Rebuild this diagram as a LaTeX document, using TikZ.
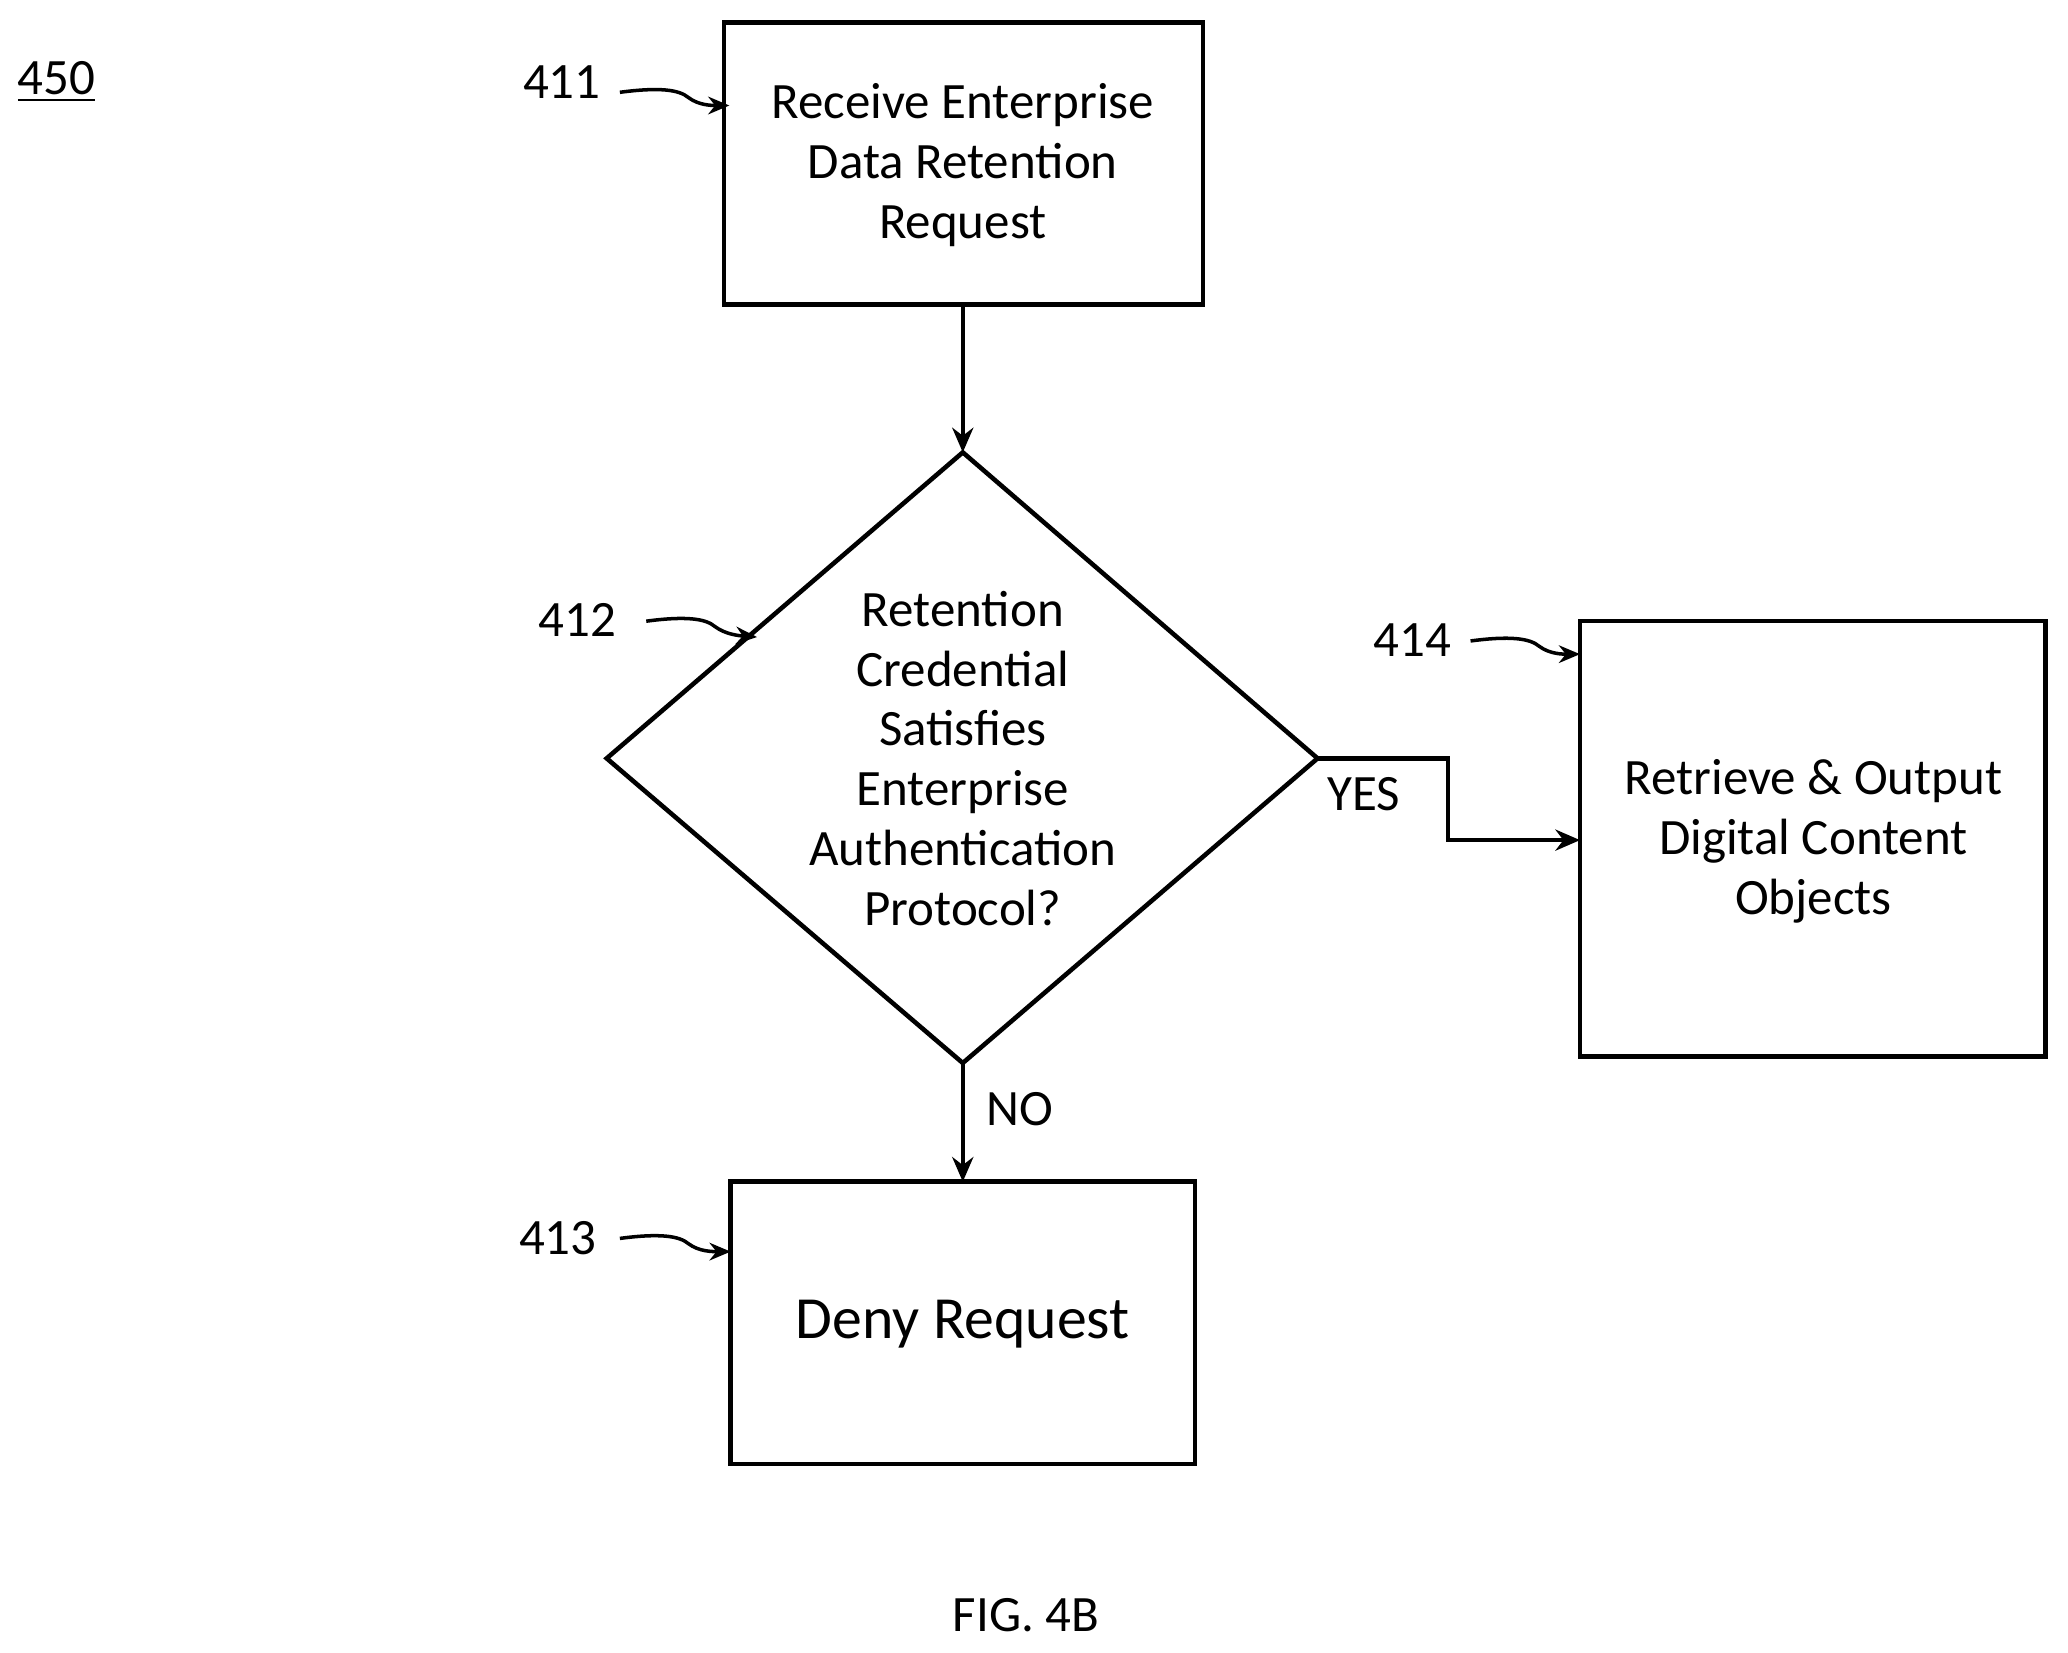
\documentclass[tikz,border=0pt]{standalone}
\usepackage{fontspec}
\setmainfont{Carlito}
\usetikzlibrary{arrows.meta}
\begin{document}
\begin{tikzpicture}[x=0.013189cm,y=-0.013189cm,
  box/.style={draw,line width=1.3pt,minimum width=#1,align=center},
  txt/.style={font=\fontsize{14.5}{17}\selectfont,align=center},
  conn/.style={line width=1.3pt,-{Stealth[length=7pt,width=6pt]}},
  lead/.style={line width=1pt,-{Stealth[length=6pt,width=5pt]}}]
\useasboundingbox (0,0) rectangle (1568,1253);
\draw[line width=1.3pt] (549,17) rectangle (912,231);
\node[txt] (b411) at (730,125) {Receive Enterprise\\Data Retention\\Request};
\coordinate (b411s) at (730,231);
\coordinate (dt) at (730,343);
\coordinate (dr) at (999,575);
\coordinate (db) at (730,806);
\draw[line width=1.3pt] (dt) -- (dr) -- (db) -- (460,575) -- cycle;
\node[txt] (d412) at (730,575) {Retention\\Credential\\Satisfies\\Enterprise\\Authentication\\Protocol?};
\draw[line width=1.3pt] (1198,471) rectangle (1551,801);
\node[txt] (b414) at (1375,638) {Retrieve \& Output\\Digital Content\\Objects};
\coordinate (b414w) at (1198,637);
\draw[line width=1.3pt] (554,896) rectangle (906,1110);
\node[font=\fontsize{17}{20}\selectfont] (b413) at (730,1004) {Deny Request};
\coordinate (b413n) at (730,896);
\draw[conn] (b411s) -- (dt);
\draw[conn] (dr) -- (1098,575) -- (1098,637) -- (b414w);
\draw[conn] (db) -- (b413n);
\node[txt] (yes) at (1034,602) {YES};
\node[txt] (no) at (773,841) {NO};
\node[txt] (l450) at (43,62) {\underline{450}};
\node[txt] (l411) at (426,62) {411};
\node[txt] (l412) at (438,470) {412};
\node[txt] (l414) at (1071,485) {414};
\node[txt] (l413) at (423,939) {413};
\coordinate (a411) at (553,80);
\coordinate (a412) at (574,483);
\coordinate (a414) at (1198,496);
\coordinate (a413) at (554,949);
\draw[lead] (470,70) .. controls (500,66) and (515,68) .. (522,74) .. controls (530,80) and (540,80) .. (a411);
\draw[lead] (490,471) .. controls (520,467) and (535,469) .. (542,475) .. controls (550,481) and (560,482) .. (a412);
\draw[lead] (1115,486) .. controls (1145,482) and (1160,484) .. (1167,490) .. controls (1175,496) and (1185,496) .. (a414);
\draw[lead] (470,939) .. controls (500,935) and (515,937) .. (522,943) .. controls (530,949) and (540,949) .. (a413);
\node[txt] (fig) at (778,1225) {FIG. 4B};
\end{tikzpicture}
\end{document}
